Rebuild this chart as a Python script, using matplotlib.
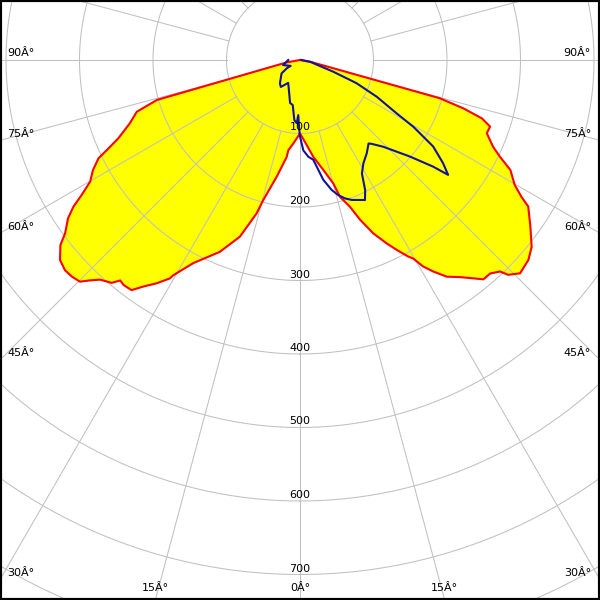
import numpy as np
import matplotlib
matplotlib.use('Agg')
import matplotlib.pyplot as plt
import matplotlib.transforms as mtransforms
from matplotlib.patches import Rectangle

# C0-C180 plane (red outline, yellow fill); degrees, negative = left half
c0_angles = [-90, -80, -74.4, -72.4, -69.6, -66.7, -65.0, -64.0, -62.0, -59.9,
             -58.3, -57.1, -55.7, -53.6, -52.3, -50.2, -48.2, -46.5, -44.8, -43.6,
             -42.3, -40.2, -39.2, -38.1, -36.2, -34.7, -32.7, -30.8, -30.5, -27.7,
             -22.7, -18.8, -15.8, -14.7, -11.3, -7.8, -7.4, -4.6, 0,
             4.5, 7.8, 12.0, 15.1, 16.3, 18.8, 20.6, 22.9, 25.3, 27.0,
             28.8, 29.7, 30.8, 32.2, 34.1, 36.4, 38.4, 39.9, 41.7, 43.4,
             44.1, 45.9, 48.8, 51.1, 54.1, 57.3, 58.3, 59.8, 62.4, 64.2,
             65.8, 68.6, 70.7, 72.2, 73.5, 74.7, 80, 90]
c0_cd = [0, 18, 202, 233, 247, 269, 290, 305, 319, 330,
         349, 367, 382, 397, 412, 425, 429, 428, 425, 414,
         404, 397, 387, 389, 388, 375, 361, 346, 340, 312,
         283, 254, 217, 197, 162, 133, 124, 114, 100,
         116, 133, 153, 174, 194, 211, 232, 256, 276, 290,
         305, 311, 327, 340, 356, 367, 379, 389, 389, 396,
         407, 417, 413, 405, 387, 369, 354, 338, 323, 302,
         288, 273, 274, 260, 232, 197, 15, 0]

# C90-C270 plane (blue line)
c90_angles = [-90, -73.3, -57.7, -58, -54, -40.6, -35.4, -27.3, -17.8, -13,
              -9.2, -5.4, -3.0, -1.8, -0.6, 0, 2.1, 4.9, 7.6, 10.5,
              11.0, 13.7, 15.8, 18.0, 20.3, 24.9, 26.6, 28.6, 31.5, 35.6,
              39.4, 40.5, 43.9, 48.7, 51.3, 52.2, 54.2, 57.0, 58.1, 59.5,
              61.1, 64.4, 67.7, 70.6, 80, 90]
c90_cd = [16, 24, 15, 21, 31, 42, 45, 35, 48, 60,
          62, 82, 86, 75, 95, 104, 123, 132, 137, 161,
          166, 182, 191, 198, 203, 210, 198, 176, 165, 156,
          147, 150, 164, 199, 232, 255, 240, 216, 198, 179,
          150, 116, 83, 48, 14, 2]

ring_values = [100, 200, 300, 400, 500, 600, 700]
angle_ticks = [90, 75, 60, 45, 30, 15, 0]

W = H = 600
cx, cy = 300, 60          # pole, pixels from top-left
px_per_cd = 0.735
rmax = 900
grid_col = '#c0c0c0'

fig = plt.figure(figsize=(6, 6), dpi=100)
R = rmax * px_per_cd
ax = fig.add_axes([(cx - R) / W, (H - cy - R) / H, 2 * R / W, 2 * R / H],
                  projection='polar')
ax.set_theta_zero_location('S')
ax.set_theta_direction(1)
ax.set_ylim(0, rmax)
ax.set_axis_off()

# fill first so the grid shows through it
th0 = np.radians(c0_angles)
ax.fill(th0, c0_cd, color='#ffff00', lw=0, zorder=1)

full = np.linspace(0, 2 * np.pi, 721)
for r in range(100, rmax + 1, 100):
    ax.plot(full, np.full_like(full, r), color=grid_col, lw=0.75, zorder=2)
for a in range(0, 360, 15):
    t = np.radians(a)
    ax.plot([t, t], [100, rmax], color=grid_col, lw=0.75, zorder=2)

ax.plot(th0, c0_cd, color='#ff0000', lw=1.5, zorder=3)
ax.plot(np.radians(c90_angles), c90_cd, color='#12129a', lw=1.5, zorder=3)

# value labels just above each ring on the 0 line
off = mtransforms.ScaledTranslation(0, 6 / fig.dpi, fig.dpi_scale_trans)
for r in ring_values:
    ax.text(0, r, str(r), ha='center', va='center', fontsize=8,
            transform=ax.transData + off, zorder=5)

# angle labels where the rays leave the picture
for a in angle_ticks:
    for side in (-1, 1):
        if a == 0 and side == 1:
            continue
        dx = side * np.sin(np.radians(a))
        dy = np.cos(np.radians(a))
        tx = ((W - cx) if dx > 0 else -cx) / dx if abs(dx) > 1e-9 else np.inf
        ty = (H - cy) / dy if dy > 1e-9 else np.inf
        label = f'{a}Â°'
        if tx <= ty:
            y = cy + tx * dy - 6.5
            x = 7 if dx < 0 else W - 9
            fig.text(x / W, 1 - y / H, label, ha='left' if dx < 0 else 'right',
                     va='center', fontsize=8)
        else:
            x = cx + ty * dx
            fig.text(x / W, 1 - 588 / H, label, ha='center', va='center',
                     fontsize=8)

fig.add_artist(Rectangle((0, 0), 1, 1, transform=fig.transFigure, fill=False,
                         edgecolor='black', lw=3))

fig.savefig('out.png', dpi=100)
